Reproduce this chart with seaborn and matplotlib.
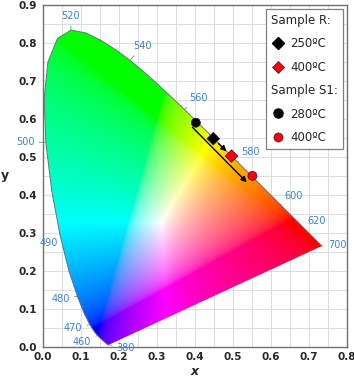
import numpy as np
import pandas as pd
import seaborn as sns
import matplotlib.pyplot as plt
from matplotlib.lines import Line2D
from matplotlib.patches import Polygon

# CIE 1931 spectral locus (2 deg observer), 5 nm steps
wavelengths = list(range(380, 701, 5))
locus_x = [0.1741, 0.1740, 0.1738, 0.1736, 0.1733, 0.1730, 0.1726, 0.1721, 0.1714, 0.1703,
           0.1689, 0.1669, 0.1644, 0.1611, 0.1566, 0.1510, 0.1440, 0.1355, 0.1241, 0.1096,
           0.0913, 0.0687, 0.0454, 0.0235, 0.0082, 0.0039, 0.0139, 0.0389, 0.0743, 0.1142,
           0.1547, 0.1929, 0.2296, 0.2658, 0.3016, 0.3373, 0.3731, 0.4087, 0.4441, 0.4788,
           0.5125, 0.5448, 0.5752, 0.6029, 0.6270, 0.6482, 0.6658, 0.6801, 0.6915, 0.7006,
           0.7079, 0.7140, 0.7190, 0.7230, 0.7260, 0.7283, 0.7300, 0.7311, 0.7320, 0.7327,
           0.7334, 0.7340, 0.7344, 0.7346, 0.7347]
locus_y = [0.0050, 0.0050, 0.0049, 0.0049, 0.0048, 0.0048, 0.0048, 0.0048, 0.0051, 0.0058,
           0.0069, 0.0086, 0.0109, 0.0138, 0.0177, 0.0227, 0.0297, 0.0399, 0.0578, 0.0868,
           0.1327, 0.2007, 0.2950, 0.4127, 0.5384, 0.6548, 0.7502, 0.8120, 0.8338, 0.8262,
           0.8059, 0.7816, 0.7543, 0.7243, 0.6923, 0.6589, 0.6245, 0.5896, 0.5547, 0.5202,
           0.4866, 0.4544, 0.4242, 0.3965, 0.3725, 0.3514, 0.3340, 0.3197, 0.3083, 0.2993,
           0.2920, 0.2859, 0.2809, 0.2770, 0.2740, 0.2717, 0.2700, 0.2689, 0.2680, 0.2673,
           0.2666, 0.2660, 0.2656, 0.2654, 0.2653]

labelled_wl = [380, 460, 470, 480, 490, 500, 520, 540, 560, 580, 600, 620, 700]
label_offsets = {380: (12, -2), 460: (-11, -5), 470: (-12, -2), 480: (-12, -2),
                 490: (-8, -6), 500: (-15, 0), 520: (0, 10), 540: (9, 10),
                 560: (10, 8), 580: (9, 7), 600: (9, 7), 620: (8, 6), 700: (11, 1)}

# measured chromaticity points
samples = ['R', 'R', 'S1', 'S1']
temps = ['250ºC', '400ºC', '280ºC', '400ºC']
stage = ['low', 'high', 'low', 'high']
cie_x = [0.449, 0.497, 0.403, 0.552]
cie_y = [0.548, 0.502, 0.590, 0.450]

df = pd.DataFrame({'sample': samples, 'temp': temps, 'stage': stage, 'x': cie_x, 'y': cie_y})

sns.set_style('white')
plt.rcParams['font.family'] = ['DejaVu Sans']

fig = plt.figure(figsize=(3.54, 3.78), dpi=100)
ax = fig.add_axes([42.7 / 354, 1 - 346.7 / 378, 304 / 354, 341.7 / 378])

# colour fill of the horseshoe
gx = np.linspace(0, 0.8, 600)
gy = np.linspace(0.0005, 0.9, 680)
X, Y = np.meshgrid(gx, gy)
XYZ = np.stack([X / Y, np.ones_like(X), (1 - X - Y) / Y], axis=-1)
M = np.array([[3.2406, -1.5372, -0.4986],
              [-0.9689, 1.8758, 0.0415],
              [0.0557, -0.2040, 1.0570]])
rgb = np.clip(XYZ @ M.T, 0, None)
rgb = rgb / rgb.max(axis=-1, keepdims=True)
rgb = np.where(rgb <= 0.0031308, 12.92 * rgb, 1.055 * rgb ** (1 / 2.4) - 0.055)
rgb = np.clip(rgb, 0, 1)

im = ax.imshow(rgb, extent=(0, 0.8, 0, 0.9), origin='lower', aspect='auto',
               interpolation='bilinear', zorder=1)
horseshoe = Polygon(np.column_stack([locus_x, locus_y]), closed=True,
                    transform=ax.transData, facecolor='none', edgecolor='none')
ax.add_patch(horseshoe)
im.set_clip_path(horseshoe)
ax.plot(locus_x, locus_y, color='#6a6f80', lw=0.7, zorder=2)

for wl in labelled_wl:
    i = wavelengths.index(wl)
    ax.annotate(str(wl), xy=(locus_x[i], locus_y[i]), xytext=label_offsets[wl],
                textcoords='offset points', ha='center', va='center', fontsize=7,
                color='#3b82d6', annotation_clip=False,
                arrowprops=dict(arrowstyle='-', color='#808080', lw=0.6,
                                shrinkA=1, shrinkB=0))

# shift arrows
ax.annotate('', xy=(df.x[3] - 0.015, df.y[3] - 0.017), xytext=(df.x[2] - 0.009, df.y[2] - 0.012),
            arrowprops=dict(arrowstyle='-|>', color='black', lw=1.0, mutation_scale=8,
                            shrinkA=0, shrinkB=0))
ax.annotate('', xy=(df.x[1], df.y[1]), xytext=(df.x[0], df.y[0]),
            arrowprops=dict(arrowstyle='-|>', color='black', lw=1.0, mutation_scale=8,
                            shrinkA=5, shrinkB=5))

sns.scatterplot(data=df, x='x', y='y', hue='stage', style='sample',
                palette={'low': 'black', 'high': 'red'}, markers={'R': 'D', 'S1': 'o'},
                s=42, edgecolor='#3a1040', linewidth=0.5, legend=False, zorder=5, ax=ax)

ax.set_xlim(0, 0.8)
ax.set_ylim(0, 0.9)
ax.set_xticks(np.arange(0, 0.81, 0.1))
ax.set_yticks(np.arange(0, 0.91, 0.1))
ax.set_xticks(np.arange(0.05, 0.8, 0.1), minor=True)
ax.set_yticks(np.arange(0.05, 0.9, 0.1), minor=True)
ax.set_xticklabels([f'{v:.1f}' for v in np.arange(0, 0.81, 0.1)])
ax.set_yticklabels([f'{v:.1f}' for v in np.arange(0, 0.91, 0.1)])
ax.tick_params(which='both', length=0, labelsize=7.5, pad=4)
for lab in ax.get_xticklabels() + ax.get_yticklabels():
    lab.set_fontweight('bold')
ax.grid(which='both', color='#dcdcdc', lw=0.7)
ax.set_axisbelow(True)
for sp in ax.spines.values():
    sp.set_color('#707070')
    sp.set_linewidth(1.0)

ax.set_xlabel('x', fontsize=9, fontweight='bold', style='italic', va='baseline')
ax.set_ylabel('y', fontsize=9, fontweight='bold', rotation=0, va='center')
ax.xaxis.set_label_coords(0.498, -0.083)
ax.yaxis.set_label_coords(-0.125, 0.502)

# legend with header rows
blank = Line2D([], [], linestyle='none')
handles = [blank,
           Line2D([], [], marker='D', color='black', linestyle='none', ms=6.5),
           Line2D([], [], marker='D', color='red', mec='#3a1040', mew=0.5, linestyle='none', ms=6.5),
           blank,
           Line2D([], [], marker='o', color='black', linestyle='none', ms=6.5),
           Line2D([], [], marker='o', color='red', mec='#3a1040', mew=0.5, linestyle='none', ms=6.5)]
labels = ['Sample R:', temps[0], temps[1], 'Sample S1:', temps[2], temps[3]]
leg = ax.legend(handles, labels, loc='upper right', bbox_to_anchor=(0.988, 0.989),
                borderaxespad=0, fontsize=8.5, handlelength=1.2, handletextpad=0.45,
                labelspacing=0.88, borderpad=0.45, fancybox=False, framealpha=1,
                edgecolor='#808080')
leg.get_frame().set_linewidth(0.9)
rows = leg._legend_handle_box.get_children()[0].get_children()
for r in (0, 3):
    rows[r].get_children()[0].width = 0
    rows[r].sep = 0

fig.savefig('out.png', dpi=100)
